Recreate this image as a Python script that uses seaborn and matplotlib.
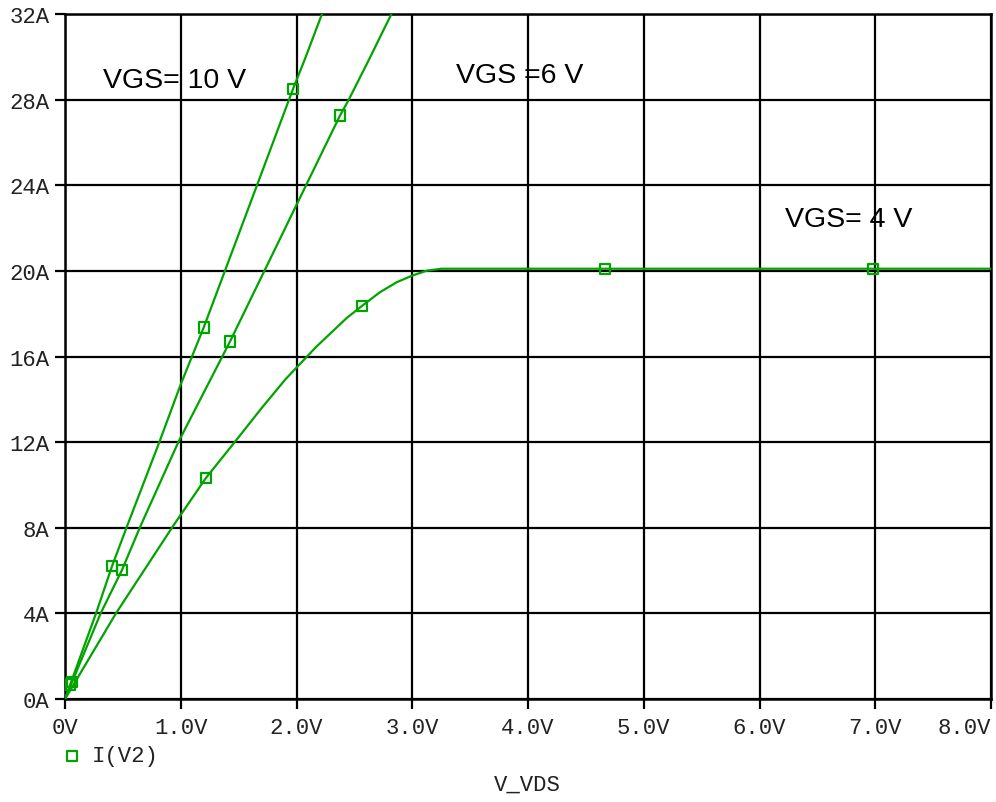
import numpy as np
import pandas as pd
import matplotlib
matplotlib.use("Agg")
import matplotlib.pyplot as plt
import seaborn as sns

# Drain current I(V2) versus V_VDS for three gate voltages
vds_10 = [0, 0.268, 0.406, 0.538, 0.815, 1.0, 1.198, 1.6, 1.97, 2.073, 2.22]
id_10 = [0, 4.0, 6.2, 8.1, 12.0, 14.7, 17.35, 23.15, 28.5, 29.9, 32.0]

vds_6 = [0, 0.308, 0.4925, 0.654, 0.979, 1.4255, 1.9, 2.376, 2.448, 2.629, 2.82]
id_6 = [0, 4.0, 6.03, 8.1, 12.0, 16.7, 21.97, 27.26, 27.96, 29.9, 32.0]

vds_4 = [0, 0.44, 0.936, 1.218, 1.469, 1.7, 1.907, 2.17, 2.434, 2.563, 2.72,
         2.866, 3.0, 3.125, 3.254, 8.0]
id_4 = [0, 4.0, 8.1, 10.33, 12.02, 13.6, 14.95, 16.45, 17.8, 18.35, 19.0,
        19.47, 19.78, 20.01, 20.1, 20.1]

# Sample points where the probe symbols sit on each trace
mark_10 = [0.045, 0.406, 1.198, 1.97]
mark_6 = [0.06, 0.4925, 1.4255, 2.376]
mark_4 = [1.218, 2.563, 4.665, 6.98]

x_ticks = [0, 1, 2, 3, 4, 5, 6, 7, 8]
x_labels = ["0V", "1.0V", "2.0V", "3.0V", "4.0V", "5.0V", "6.0V", "7.0V", "8.0V"]
y_ticks = [0, 4, 8, 12, 16, 20, 24, 28, 32]
y_labels = ["0A", "4A", "8A", "12A", "16A", "20A", "24A", "28A", "32A"]

labels = ["VGS= 10 V", "VGS =6 V", "VGS= 4 V"]

GREEN = "#00a400"

curves = pd.concat([
    pd.DataFrame({"vds": vds_10, "id": id_10, "vgs": "10"}),
    pd.DataFrame({"vds": vds_6, "id": id_6, "vgs": "6"}),
    pd.DataFrame({"vds": vds_4, "id": id_4, "vgs": "4"}),
], ignore_index=True)

marks = pd.concat([
    pd.DataFrame({"vds": mark_10, "id": np.interp(mark_10, vds_10, id_10), "vgs": "10"}),
    pd.DataFrame({"vds": mark_6, "id": np.interp(mark_6, vds_6, id_6), "vgs": "6"}),
    pd.DataFrame({"vds": mark_4, "id": np.interp(mark_4, vds_4, id_4), "vgs": "4"}),
], ignore_index=True)

sns.set_theme(style="white")
plt.rcParams["font.family"] = ["Liberation Sans", "DejaVu Sans"]

fig = plt.figure(figsize=(9.96, 8.03), dpi=100)
ax = fig.add_axes([65 / 996, 103 / 803, 926 / 996, 685 / 803])

palette = {"10": GREEN, "6": GREEN, "4": GREEN}
sns.lineplot(data=curves, x="vds", y="id", hue="vgs", palette=palette,
             sort=False, estimator=None, linewidth=1.6, legend=False,
             ax=ax, zorder=3)
sns.scatterplot(data=marks, x="vds", y="id", hue="vgs", palette=palette,
                marker="s", s=55, linewidth=1.6, legend=False, ax=ax, zorder=4)
# open squares: edge colour from the palette, no fill
for coll in ax.collections:
    coll.set_facecolor("none")
    coll.set_edgecolor(GREEN)

ax.set_xlim(0, 8)
ax.set_ylim(0, 32)
ax.set_xticks(x_ticks)
ax.set_xticklabels(x_labels)
ax.set_yticks(y_ticks)
ax.set_yticklabels(y_labels)

mono = dict(family="Liberation Mono", size=16, color="#222222")
for t in ax.get_xticklabels() + ax.get_yticklabels():
    t.set_fontfamily("Liberation Mono")
    t.set_fontsize(16)
    t.set_color("#222222")
# last x label sits flush with the right frame edge
ax.get_xticklabels()[-1].set_horizontalalignment("right")

ax.tick_params(axis="both", which="major", direction="out", length=7,
               width=1.6, color="black", bottom=True, left=True)
ax.tick_params(axis="x", pad=6)
ax.tick_params(axis="y", pad=4)

ax.grid(True, color="black", linewidth=1.6)
ax.set_axisbelow(True)
for sp in ax.spines.values():
    sp.set_visible(True)
    sp.set_color("black")
    sp.set_linewidth(1.8)

ax.set_xlabel("")
ax.set_ylabel("")

# curve captions
ax.text(0.328, 28.58, labels[0], fontsize=20.5, color="black", va="baseline", zorder=5)
ax.text(3.378, 28.81, labels[1], fontsize=20.5, color="black", va="baseline", zorder=5)
ax.text(6.22, 22.11, labels[2], fontsize=20.5, color="black", va="baseline", zorder=5)

# trace legend and x-axis variable name
ax.scatter([7 / 926], [-57 / 685], transform=ax.transAxes, marker="s", s=55,
           facecolors="none", edgecolors=GREEN, linewidths=1.6, clip_on=False)
fig.text(92 / 996, 1 - 757 / 803, "I(V2)", va="center", ha="left", **mono)
fig.text(527 / 996, 1 - 785 / 803, "V_VDS", va="center", ha="center", **mono)

fig.savefig("out.png", dpi=100, facecolor="white")
